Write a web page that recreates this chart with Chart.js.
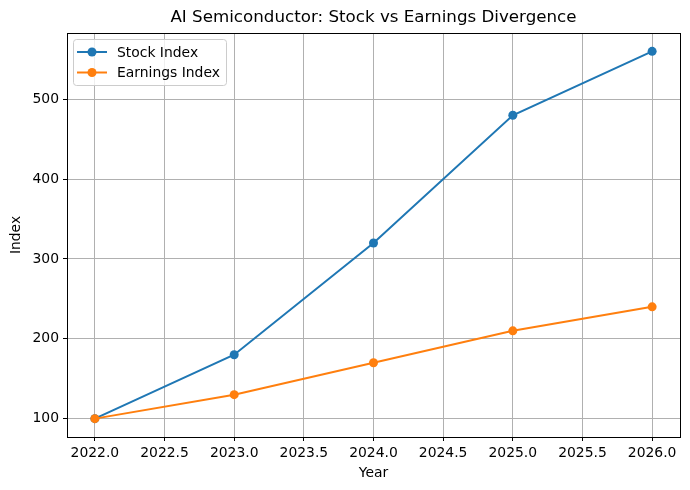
<!DOCTYPE html>
<html>
<head>
<meta charset="utf-8">
<script src="https://cdn.jsdelivr.net/npm/chart.js@4/dist/chart.umd.min.js"></script>
<style>
  html, body { margin: 0; padding: 0; background: #fff; }
  #wrap { width: 690px; height: 490px; }
</style>
</head>
<body>
<div id="wrap"><canvas id="chart" width="690" height="490"></canvas></div>
<script>
const years = [2022, 2023, 2024, 2025, 2026]
const stockIndex = [100, 180, 320, 480, 560]
const earningsIndex = [100, 130, 170, 210, 240]
const xTicks = [2022, 2022.5, 2023, 2023.5, 2024, 2024.5, 2025, 2025.5, 2026]
const yTicks = [100, 200, 300, 400, 500]
const chartTitle = 'AI Semiconductor: Stock vs Earnings Divergence'

const BLUE = '#1f77b4'
const ORANGE = '#ff7f0e'
const FONT = 'DejaVu Sans'

Chart.defaults.color = '#000'
Chart.defaults.font.family = FONT

// spines + title centred over the axes, like matplotlib
const framePlugin = {
  id: 'frame',
  afterDraw(chart) {
    const { ctx, chartArea: a } = chart
    ctx.save()
    ctx.strokeStyle = '#000'
    ctx.lineWidth = 1
    ctx.strokeRect(Math.round(a.left) + 0.5, Math.round(a.top) + 0.5,
      Math.round(a.right - a.left), Math.round(a.bottom - a.top))
    ctx.fillStyle = '#000'
    ctx.font = '16.7px ' + FONT
    ctx.textAlign = 'center'
    ctx.textBaseline = 'middle'
    ctx.fillText(chartTitle, (a.left + a.right) / 2, 18)
    ctx.restore()
  }
}

// legend box in the upper left, line + marker per entry
const legendPlugin = {
  id: 'mplLegend',
  afterDraw(chart) {
    const { ctx, chartArea: a } = chart
    const x = a.left + 6, y = a.top + 6, w = 153, h = 46
    ctx.save()
    ctx.beginPath()
    ctx.roundRect(x + 0.5, y + 0.5, w, h, 3)
    ctx.fillStyle = 'rgba(255,255,255,0.8)'
    ctx.fill()
    ctx.strokeStyle = '#cccccc'
    ctx.lineWidth = 1
    ctx.stroke()
    chart.data.datasets.forEach((ds, i) => {
      const cy = y + 13 + i * 20.5
      ctx.strokeStyle = ds.borderColor
      ctx.lineWidth = 2
      ctx.beginPath()
      ctx.moveTo(x + 4, cy)
      ctx.lineTo(x + 34, cy)
      ctx.stroke()
      ctx.fillStyle = ds.borderColor
      ctx.beginPath()
      ctx.arc(x + 19, cy, 4.5, 0, Math.PI * 2)
      ctx.fill()
      ctx.fillStyle = '#000'
      ctx.font = '13.9px ' + FONT
      ctx.textBaseline = 'middle'
      ctx.fillText(ds.label, x + 44, cy + 1)
    })
    ctx.restore()
  }
}

new Chart(document.getElementById('chart').getContext('2d'), {
  type: 'line',
  data: {
    datasets: [
      {
        label: 'Stock Index',
        data: years.map((yr, i) => ({ x: yr, y: stockIndex[i] })),
        borderColor: BLUE,
        backgroundColor: BLUE,
        borderWidth: 2,
        pointRadius: 4.5,
        pointHoverRadius: 4.5,
        pointBorderWidth: 0,
        order: 1,
      },
      {
        label: 'Earnings Index',
        data: years.map((yr, i) => ({ x: yr, y: earningsIndex[i] })),
        borderColor: ORANGE,
        backgroundColor: ORANGE,
        borderWidth: 2,
        pointRadius: 4.5,
        pointHoverRadius: 4.5,
        pointBorderWidth: 0,
        order: 0,
      },
    ],
  },
  plugins: [framePlugin, legendPlugin],
  options: {
    responsive: false,
    animation: false,
    events: [],
    layout: { padding: { left: 0, right: 10, top: 33, bottom: 0 } },
    plugins: {
      legend: { display: false },
      tooltip: { enabled: false },
      title: { display: false },
    },
    scales: {
      x: {
        type: 'linear',
        min: 2021.8,
        max: 2026.2,
        afterBuildTicks(scale) { scale.ticks = xTicks.map((v) => ({ value: v })) },
        afterFit(scale) { scale.height = 53 },
        ticks: {
          font: { size: 13.9 },
          padding: 4,
          maxRotation: 0,
          autoSkip: false,
          callback: (v) => Number(v).toFixed(1),
        },
        grid: { color: '#b0b0b0', lineWidth: 1, tickColor: '#000', tickLength: 4 },
        border: { color: '#000', width: 1 },
        title: { display: true, text: 'Year', font: { size: 13.9 }, padding: { top: 2, bottom: 8 } },
      },
      y: {
        type: 'linear',
        min: 77,
        max: 583,
        afterBuildTicks(scale) { scale.ticks = yTicks.map((v) => ({ value: v })) },
        afterFit(scale) { scale.width = 67 },
        ticks: { font: { size: 13.9 }, padding: 4 },
        grid: { color: '#b0b0b0', lineWidth: 1, tickColor: '#000', tickLength: 4 },
        border: { color: '#000', width: 1 },
        title: { display: true, text: 'Index', font: { size: 13.9 }, padding: { top: 8, bottom: 4 } },
      },
    },
  },
})
</script>
</body>
</html>
